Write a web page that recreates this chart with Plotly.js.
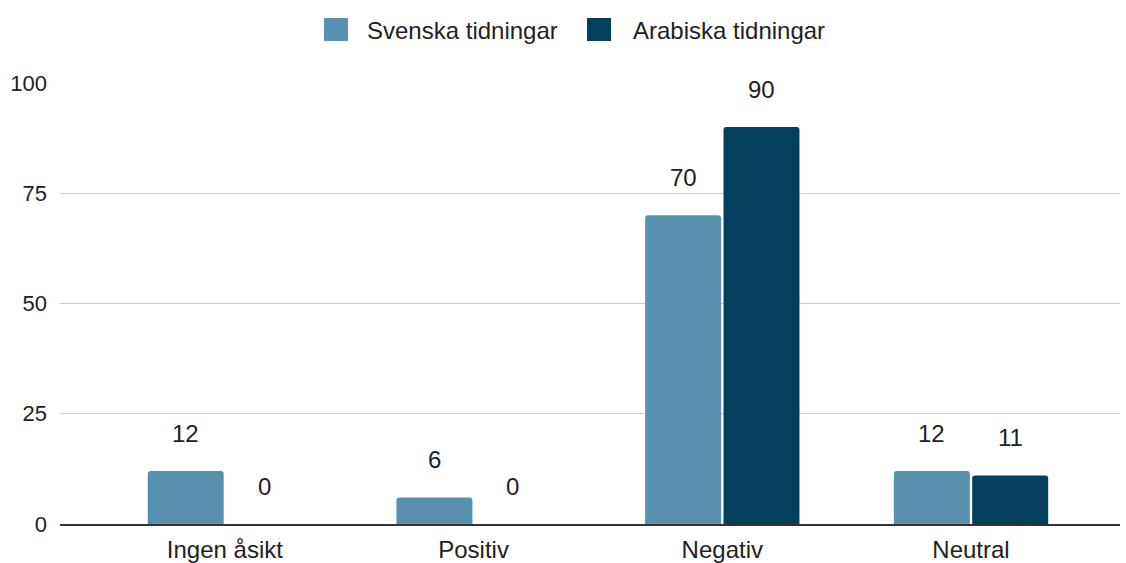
<!DOCTYPE html>
<html>
<head>
<meta charset="utf-8">
<script src="https://cdn.plot.ly/plotly-3.0.1.min.js"></script>
<style>html,body{margin:0;padding:0;background:#fff}#chart{width:1126px;height:563px}</style>
</head>
<body>
<div id="chart"></div>
<script>
const categories = ["Ingen åsikt", "Positiv", "Negativ", "Neutral"];
const seriesNames = ["Svenska tidningar", "Arabiska tidningar"];
const svenska = [12, 6, 70, 12];
const arabiska = [0, 0, 90, 11];
const yTicks = [0, 25, 50, 75, 100];

const colors = ["#5891ad", "#02405e"];
const W = 1126, H = 563;
const L = 60, R = 6, T = 83, B = 39;
const pw = W - L - R, ph = H - T - B;
const bargap = 0.37, bargroupgap = 0.03;
const font = "'Liberation Sans', Arial, sans-serif";
const txt = "#222222";

const xIdx = categories.map((c, i) => i);
const allSeries = [svenska, arabiska];

const traces = allSeries.map((vals, s) => ({
  type: "bar",
  name: seriesNames[s],
  x: xIdx,
  y: vals,
  marker: {color: colors[s], cornerradius: 3},
  showlegend: false,
  hoverinfo: "skip"
}));

const off = (1 - bargap) / 4;
const annotations = [];
allSeries.forEach((vals, s) => {
  vals.forEach((v, i) => {
    annotations.push({
      xref: "x", yref: "y",
      x: i + (s === 0 ? -off : off),
      y: v,
      text: String(v),
      showarrow: false,
      yanchor: "middle",
      yshift: 38,
      font: {family: font, size: 24, color: txt}
    });
  });
});

// manual legend
const px2x = p => (p - L) / pw;
const py2y = p => (H - B - p) / ph;
const legendItems = [{sq: 324, tx: 365}, {sq: 587, tx: 631}];
const shapes = [];
legendItems.forEach((it, s) => {
  shapes.push({
    type: "rect", xref: "paper", yref: "paper",
    x0: px2x(it.sq), x1: px2x(it.sq + 24),
    y0: py2y(18), y1: py2y(41),
    fillcolor: colors[s], line: {width: 0}
  });
  annotations.push({
    xref: "paper", yref: "paper",
    x: px2x(it.tx), y: py2y(30),
    xanchor: "left", yanchor: "middle",
    text: seriesNames[s], showarrow: false,
    font: {family: font, size: 24, color: txt}
  });
});

const layout = {
  width: W, height: H,
  margin: {l: L, r: R, t: T, b: B, pad: 0},
  paper_bgcolor: "#fff", plot_bgcolor: "#fff",
  barmode: "group",
  bargap: bargap, bargroupgap: bargroupgap,
  font: {family: font, size: 22, color: txt},
  xaxis: {
    type: "linear",
    range: [-0.663, 3.599],
    tickvals: xIdx, ticktext: categories,
    showgrid: false, zeroline: false,
    showline: true, linecolor: "#333", linewidth: 1.5,
    ticks: "", ticklabelstandoff: 4,
    tickfont: {family: font, size: 24, color: txt},
    fixedrange: true
  },
  yaxis: {
    range: [0, 100],
    tickvals: yTicks,
    showgrid: true, gridcolor: "#cccccc", gridwidth: 1,
    zeroline: false, showline: false,
    ticks: "", ticklabelstandoff: 12,
    tickfont: {family: font, size: 22, color: txt},
    fixedrange: true
  },
  annotations: annotations,
  shapes: shapes
};

Plotly.newPlot("chart", traces, layout, {displayModeBar: false, staticPlot: true});
</script>
</body>
</html>
